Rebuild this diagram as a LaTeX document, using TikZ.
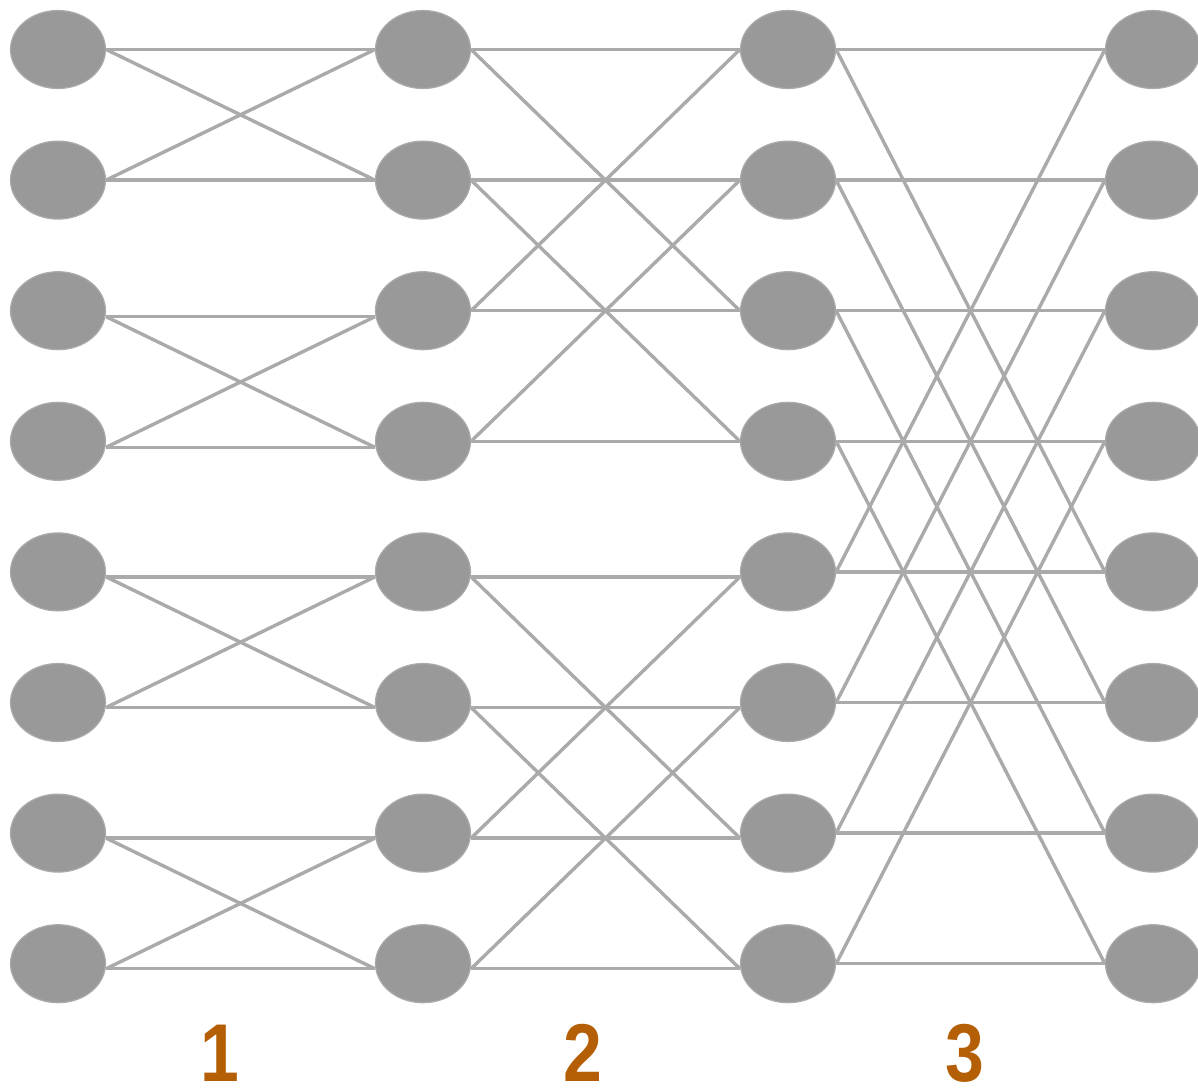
\documentclass[tikz,border=0pt]{standalone}
\usepackage{fontspec}
\usetikzlibrary{shapes.geometric,backgrounds}
\newfontfamily\labfont[FakeStretch=0.85]{Liberation Sans}
\definecolor{nodefill}{HTML}{999999}
\definecolor{nodeline}{HTML}{ABABAB}
\definecolor{wirecol}{HTML}{AAAAAA}
\definecolor{labcol}{HTML}{B45F06}
\begin{document}
\begin{tikzpicture}[x=1pt,y=-1pt,
  nd/.style={ellipse, fill=nodefill, draw=nodeline, line width=1.2pt, minimum width=95pt, minimum height=78pt, inner sep=0pt},
  wire/.style={draw=wirecol, line width=3.4pt},
  lab/.style={text=labcol, font=\labfont\bfseries\fontsize{82}{82}\selectfont, inner sep=0pt, anchor=base}]
\useasboundingbox (0,0) rectangle (1198,1087);
\foreach \c/\x in {0/58,1/423,2/788,3/1153}
  \foreach \r in {0,...,7}
    \node[nd] (n\c\r) at (\x, {49.5+130.6*\r}) {};
\begin{scope}[on background layer]
% stage 1
\foreach \a/\b/\o in {0/1/0, 2/3/6, 4/5/5, 6/7/5} {
  \draw[wire] ([yshift=-\o pt]n0\a.east) -- ([yshift=-\o pt]n1\a.west);
  \draw[wire] ([yshift=-\o pt]n0\a.east) -- ([yshift=-\o pt]n1\b.west);
  \draw[wire] ([yshift=-\o pt]n0\b.east) -- ([yshift=-\o pt]n1\b.west);
  \draw[wire] ([yshift=-\o pt]n0\b.east) -- ([yshift=-\o pt]n1\a.west);
}
% stage 2
\foreach \a/\b/\o in {0/2/0, 1/3/0, 4/6/5, 5/7/5} {
  \draw[wire] ([yshift=-\o pt]n1\a.east) -- ([yshift=-\o pt]n2\a.west);
  \draw[wire] ([yshift=-\o pt]n1\a.east) -- ([yshift=-\o pt]n2\b.west);
  \draw[wire] ([yshift=-\o pt]n1\b.east) -- ([yshift=-\o pt]n2\b.west);
  \draw[wire] ([yshift=-\o pt]n1\b.east) -- ([yshift=-\o pt]n2\a.west);
}
% stage 3
\foreach \a/\b in {0/4, 1/5, 2/6, 3/7} {
  \draw[wire] (n2\a.east) -- (n3\a.west);
  \draw[wire] (n2\a.east) -- (n3\b.west);
  \draw[wire] (n2\b.east) -- (n3\b.west);
  \draw[wire] (n2\b.east) -- (n3\a.west);
}
\end{scope}
\node[lab] (l1) at (220,1081) {1};
\node[lab] (l2) at (583,1081) {2};
\node[lab] (l3) at (965,1081) {3};
\end{tikzpicture}
\end{document}
